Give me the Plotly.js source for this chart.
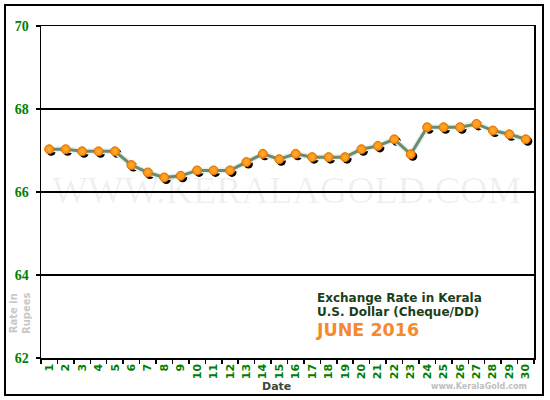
<!DOCTYPE html>
<html>
<head>
<meta charset="utf-8">
<script src="https://cdn.plot.ly/plotly-3.0.1.min.js"></script>
<style>
  html, body { margin: 0; padding: 0; background: #ffffff; }
  #chart { width: 550px; height: 400px; }
</style>
</head>
<body>
<div id="chart"></div>
<script>
// June 2016 USD (Cheque/DD) rate in Kerala
var days = ['1', '2', '3', '4', '5', '6', '7', '8', '9', '10',
            '11', '12', '13', '14', '15', '16', '17', '18', '19', '20',
            '21', '22', '23', '24', '25', '26', '27', '28', '29', '30'];
var rates = [67.03, 67.03, 66.98, 66.98, 66.98, 66.65, 66.47, 66.35, 66.39, 66.52,
             66.52, 66.52, 66.72, 66.92, 66.79, 66.92, 66.84, 66.84, 66.84, 67.03,
             67.11, 67.27, 66.91, 67.56, 67.56, 67.56, 67.64, 67.48, 67.39, 67.27];
var yTicks = [62, 64, 66, 68, 70];

// plot box in page pixels
var box = {left: 41, right: 534, top: 26, bottom: 358};
var W = 550, H = 400;
var plotW = box.right - box.left, plotH = box.bottom - box.top;
var yMin = 62, yMax = 70;

function px(x) { return (x - box.left) / plotW; }
function py(y) { return (box.bottom - y) / plotH; }

// shadow offset, 2px right and 2px down
var shX = 2 * days.length / plotW;
var shY = 2 * (yMax - yMin) / plotH;

var traces = [
    {   // black drop shadow under each dot
        x: days, y: rates, xaxis: 'x', yaxis: 'y',
        type: 'scatter', mode: 'markers',
        marker: {size: 9, color: '#000000'},
        hoverinfo: 'skip'
    },
    {   // pale halo under the line
        x: days, y: rates, xaxis: 'x2', yaxis: 'y2',
        type: 'scatter', mode: 'lines',
        line: {color: '#e2f2ef', width: 6},
        hoverinfo: 'skip'
    },
    {
        x: days, y: rates, xaxis: 'x2', yaxis: 'y2',
        type: 'scatter', mode: 'lines+markers',
        line: {color: '#6d8a6d', width: 3},
        marker: {
            size: 9,
            color: '#ff8a00',
            gradient: {type: 'radial', color: '#ffb040'},
            line: {color: '#e07000', width: 1}
        }
    }
];

var ann = [
    {text: 'WWW.KERALAGOLD.COM', x: px(286), y: py(190),
     font: {family: 'Liberation Serif', size: 38, color: 'rgba(0,0,0,0.065)'}},
    {text: '<b>Exchange Rate in Kerala</b>', x: px(315), y: py(298), xanchor: 'left',
     font: {family: 'DejaVu Sans', size: 12, color: '#1a401a'}},
    {text: '<b>U.S. Dollar (Cheque/DD)</b>', x: px(315), y: py(312), xanchor: 'left',
     font: {family: 'DejaVu Sans', size: 12, color: '#1a401a'}},
    {text: '<b>JUNE 2016</b>', x: px(314), y: py(330), xanchor: 'left',
     font: {family: 'DejaVu Sans', size: 17.5, color: '#f5892e'}},
    {text: '<b>Rate in<br>Rupees</b>', x: px(20), y: py(313), textangle: -90,
     font: {family: 'DejaVu Sans', size: 10, color: '#c8c8c8'}},
    {text: '<b>Date</b>', x: px(276), y: py(386),
     font: {family: 'DejaVu Sans', size: 11, color: '#3a4a3a'}},
    {text: '<b>www.KeralaGold.com</b>', x: px(479), y: py(386),
     font: {family: 'DejaVu Sans', size: 8, color: '#c0c0c0'}}
];
ann.forEach(function (a) {
    a.xref = 'paper'; a.yref = 'paper'; a.showarrow = false;
    if (!a.xanchor) { a.xanchor = 'center'; }
    a.yanchor = 'middle';
});

var layout = {
    width: W, height: H,
    margin: {l: box.left, r: W - box.right, t: box.top, b: H - box.bottom, pad: 0},
    paper_bgcolor: '#ffffff',
    plot_bgcolor: '#ffffff',
    showlegend: false,
    hovermode: false,
    xaxis: {
        type: 'category', visible: false, fixedrange: true,
        range: [-0.5 - shX, days.length - 0.5 - shX]
    },
    yaxis: {
        visible: false, fixedrange: true,
        range: [yMin + shY, yMax + shY]
    },
    xaxis2: {
        type: 'category', overlaying: 'x', anchor: 'y2', side: 'bottom',
        range: [-0.5, days.length - 0.5],
        tickson: 'boundaries',
        ticks: 'outside', ticklen: 4, tickwidth: 1.5, tickcolor: '#000000',
        tickangle: -90,
        tickfont: {family: 'DejaVu Sans', size: 11, color: '#008000', weight: 'bold'},
        showgrid: false, zeroline: false,
        showline: true, linecolor: '#000000', linewidth: 1.5, mirror: true,
        fixedrange: true
    },
    yaxis2: {
        overlaying: 'y', anchor: 'x2', side: 'left',
        range: [yMin, yMax],
        tickvals: yTicks,
        ticks: 'outside', ticklen: 4, tickwidth: 1.5, tickcolor: '#000000',
        tickfont: {family: 'Liberation Serif', size: 14, color: '#008000', weight: 'bold'},
        ticklabelstandoff: 4,
        showgrid: true, gridcolor: '#000000', gridwidth: 1.5,
        zeroline: false,
        showline: true, linecolor: '#000000', linewidth: 1.5, mirror: true,
        fixedrange: true
    },
    shapes: [
        {   // outer frame round the whole chart
            type: 'rect', xref: 'paper', yref: 'paper',
            x0: px(5), x1: px(543), y0: py(395), y1: py(5),
            line: {color: '#000000', width: 2}
        }
    ],
    annotations: ann
};

Plotly.newPlot('chart', traces, layout, {displayModeBar: false, staticPlot: true});
</script>
</body>
</html>
